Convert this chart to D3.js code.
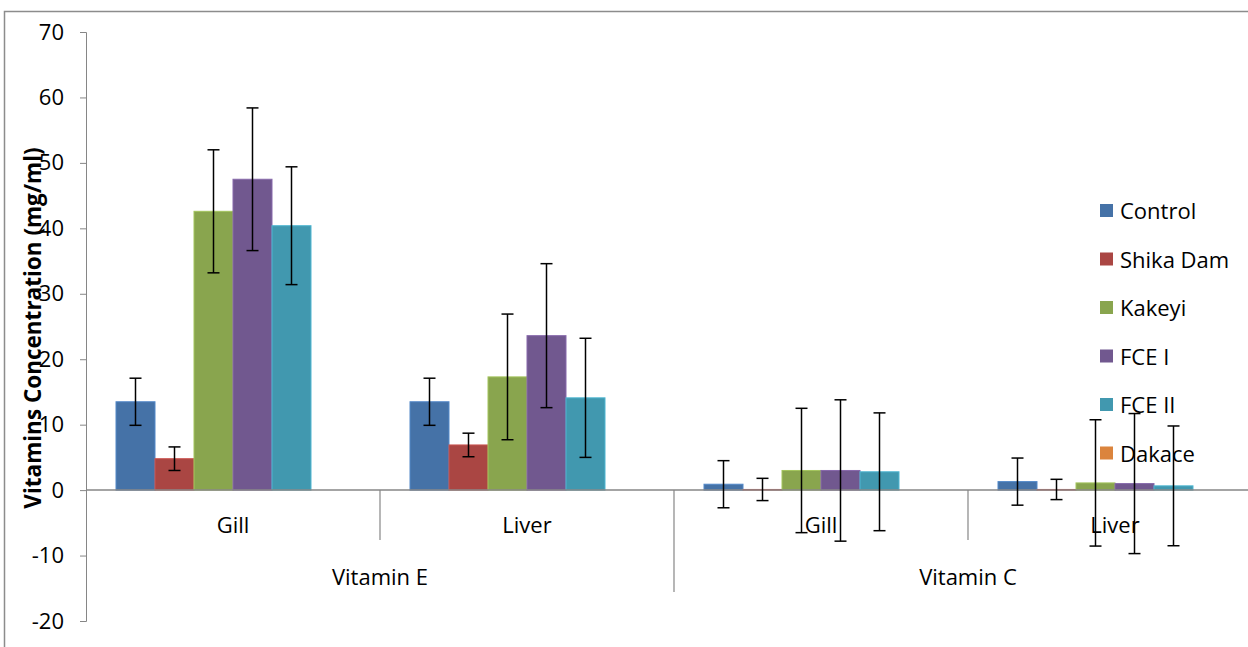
<!DOCTYPE html>
<html lang="en">
<head>
<meta charset="utf-8">
<script src="https://d3js.org/d3.v7.min.js"></script>
<style>
  body { margin: 0; background: #fff; }
  text { font-family: "Open Sans", "Noto Sans", sans-serif; }
</style>
</head>
<body>
<div id="graph"></div>
<script>
// groups and sub-categories
var groups = ["Vitamin E", "Vitamin C"];
var tissues = ["Gill", "Liver"];
var series = ["Control", "Shika Dam", "Kakeyi", "FCE I", "FCE II", "Dakace"];
var colors = ["#4572A7", "#AA4643", "#89A54E", "#71588F", "#4198AF", "#DB843D"];

// values per series, order: VE Gill, VE Liver, VC Gill, VC Liver
var control  = [13.5, 13.5, 0.9, 1.3];
var shikaDam = [4.8, 6.9, 0.1, 0.1];
var kakeyi   = [42.6, 17.3, 3.0, 1.1];
var fce1     = [47.5, 23.6, 3.0, 1.0];
var fce2     = [40.4, 14.1, 2.8, 0.65];
var dakace   = [null, null, null, null];

// standard errors
var controlErr  = [3.6, 3.6, 3.6, 3.6];
var shikaDamErr = [1.8, 1.8, 1.7, 1.55];
var kakeyiErr   = [9.4, 9.6, 9.5, 9.65];
var fce1Err     = [10.9, 11.0, 10.8, 10.7];
var fce2Err     = [9.0, 9.1, 9.0, 9.15];
var dakaceErr   = [null, null, null, null];

var yTicks = [-20, -10, 0, 10, 20, 30, 40, 50, 60, 70];

var values = [control, shikaDam, kakeyi, fce1, fce2, dakace];
var errors = [controlErr, shikaDamErr, kakeyiErr, fce1Err, fce2Err, dakaceErr];

var W = 1248, H = 647;
var svg = d3.select("#graph").append("svg")
    .attr("width", W).attr("height", H);

// outer chart frame
svg.append("path")
    .attr("d", "M4.5," + H + "V11.5H" + W)
    .attr("fill", "none").attr("stroke", "#8c8c8c").attr("stroke-width", 1.5);

var plotLeft = 86, plotRight = 1262, plotTop = 32, plotBottom = 621;

var cats = [];
groups.forEach(function(g) { tissues.forEach(function(t) { cats.push(g + "|" + t); }); });

var x0 = d3.scaleBand().domain(cats).range([plotLeft, plotRight]);
var catW = x0.bandwidth();
var x1 = d3.scaleBand().domain(series).range([30, catW - 30]);

var y = d3.scaleLinear().domain([-20, 70]).range([plotBottom, plotTop]);

// y axis
var yAxis = svg.append("g")
    .attr("transform", "translate(" + plotLeft + ",0)")
    .call(d3.axisLeft(y).tickValues(yTicks).tickSize(6).tickSizeOuter(6)
      .tickFormat(function(d) { return String(d); }));
yAxis.selectAll("path, line").attr("stroke", "#868686");
yAxis.selectAll("text")
    .attr("font-size", 22).attr("fill", "#000").attr("x", -22);

// bars
var data = [];
series.forEach(function(s, i) {
  cats.forEach(function(c, j) {
    if (values[i][j] != null)
      data.push({s: s, c: c, v: values[i][j], e: errors[i][j], col: colors[i]});
  });
});

svg.append("g").selectAll("rect")
  .data(data).enter().append("rect")
    .attr("x", function(d) { return x0(d.c) + x1(d.s); })
    .attr("width", x1.bandwidth())
    .attr("y", function(d) { return y(Math.max(0, d.v)); })
    .attr("height", function(d) { return Math.abs(y(d.v) - y(0)); })
    .attr("fill", function(d) { return d.col; })
    .attr("stroke", function(d) { return d3.color(d.col).brighter(0.5); })
    .attr("stroke-width", 1);

// zero line / category axis
svg.append("line")
    .attr("x1", plotLeft).attr("x2", W)
    .attr("y1", y(0)).attr("y2", y(0))
    .attr("stroke", "#868686").attr("stroke-width", 1.5);

// separators
cats.forEach(function(c, j) {
  if (j === 0) return;
  var xs = x0(c);
  var len = (j % tissues.length === 0) ? 102 : 50;
  svg.append("line")
    .attr("x1", xs).attr("x2", xs)
    .attr("y1", y(0)).attr("y2", y(0) + len)
    .attr("stroke", "#868686").attr("stroke-width", 1.2);
});

// error bars
var eb = svg.append("g").attr("stroke", "#000").attr("stroke-width", 1.5);
data.forEach(function(d) {
  var cx = x0(d.c) + x1(d.s) + x1.bandwidth() / 2;
  var yt = y(d.v + d.e), yb = y(d.v - d.e);
  eb.append("line").attr("x1", cx).attr("x2", cx).attr("y1", yt).attr("y2", yb);
  eb.append("line").attr("x1", cx - 6).attr("x2", cx + 6).attr("y1", yt).attr("y2", yt);
  eb.append("line").attr("x1", cx - 6).attr("x2", cx + 6).attr("y1", yb).attr("y2", yb);
});

// category labels
cats.forEach(function(c) {
  svg.append("text")
    .attr("x", x0(c) + catW / 2).attr("y", 533)
    .attr("text-anchor", "middle").attr("font-size", 22).attr("fill", "#000")
    .text(c.split("|")[1]);
});
groups.forEach(function(g, i) {
  var xs = x0(g + "|" + tissues[0]);
  svg.append("text")
    .attr("x", xs + catW * tissues.length / 2).attr("y", 585)
    .attr("text-anchor", "middle").attr("font-size", 22).attr("fill", "#000")
    .text(g);
});

// y axis title
svg.append("text")
    .attr("transform", "translate(41," + 328 + ") rotate(-90)")
    .attr("text-anchor", "middle").attr("font-size", 22.5).attr("font-weight", "bold")
    .attr("fill", "#000")
    .text("Vitamins Concentration (mg/ml)");

// legend
var lg = svg.append("g").attr("transform", "translate(1100,204)");
series.forEach(function(s, i) {
  var row = lg.append("g").attr("transform", "translate(0," + (i * 48.5) + ")");
  row.append("rect").attr("width", 13).attr("height", 13).attr("fill", colors[i]);
  row.append("text").attr("x", 20).attr("y", 15)
    .attr("font-size", 22).attr("fill", "#000").text(s);
});
</script>
</body>
</html>
